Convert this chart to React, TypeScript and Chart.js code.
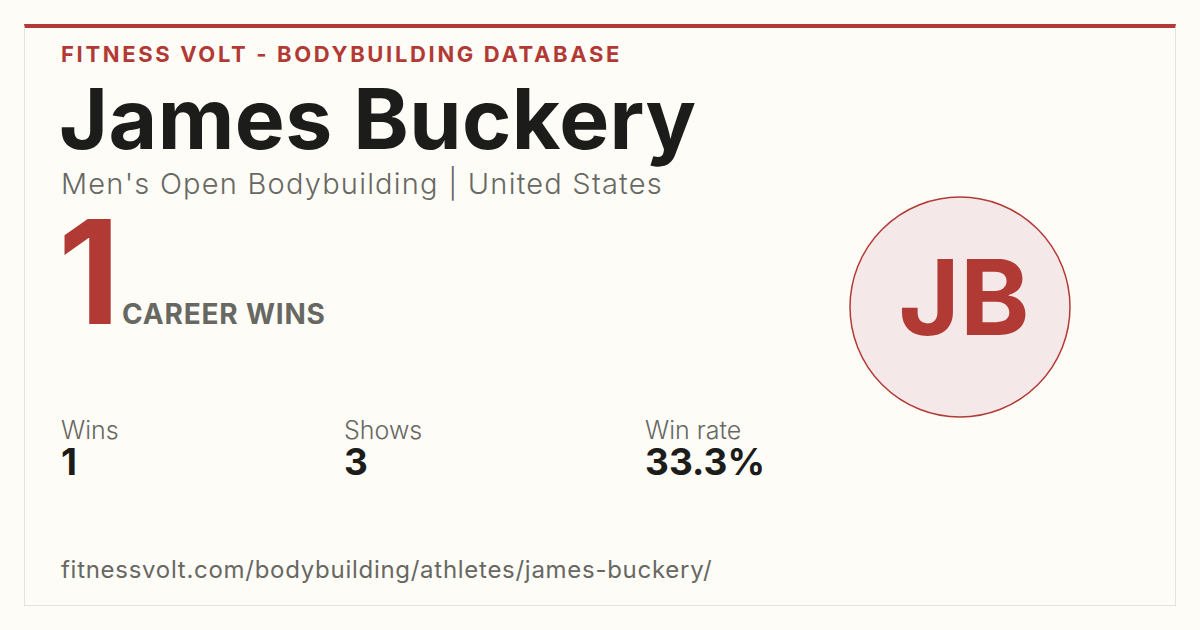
import React, { useEffect, useRef } from "react";
import { Chart, registerables } from "chart.js";

Chart.register(...registerables);

const SITE_TITLE = "FITNESS VOLT - BODYBUILDING DATABASE";
const ATHLETE_NAME = "James Buckery";
const DIVISION = "Men's Open Bodybuilding";
const COUNTRY = "United States";
const CAREER_WINS = 1;
const INITIALS = "JB";
const STAT_LABELS = ["Wins", "Shows", "Win rate"];
const STAT_VALUES = ["1", "3", "33.3%"];
const PROFILE_URL = "fitnessvolt.com/bodybuilding/athletes/james-buckery/";
const AVATAR_POINT = [{ x: 0, y: 0, r: 110 }];

const RED = "#b23a35";
const GRAY = "#686863";
const DARK = "#1c1c1a";
const BG = "#fdfcf7";
const FONT = "Inter, 'Noto Sans', sans-serif";

const STAT_X = [61, 344, 645];

function AvatarChart() {
  const ref = useRef<HTMLCanvasElement | null>(null);
  useEffect(() => {
    if (!ref.current) return;
    const initialsPlugin = {
      id: "initials",
      afterDatasetsDraw(chart: any) {
        const meta = chart.getDatasetMeta(0);
        const pt = meta.data[0];
        if (!pt) return;
        const { ctx } = chart;
        ctx.save();
        ctx.fillStyle = RED;
        ctx.font = `700 105px ${FONT}`;
        ctx.textAlign = "center";
        ctx.textBaseline = "alphabetic";
        ctx.fillText(INITIALS, pt.x + 4, pt.y + 28);
        ctx.restore();
      },
    };
    const chart = new Chart(ref.current, {
      type: "bubble",
      data: {
        datasets: [
          {
            data: AVATAR_POINT,
            backgroundColor: "#f5e8e8",
            borderColor: RED,
            borderWidth: 1.5,
            hoverRadius: 0,
            clip: false,
          } as any,
        ],
      },
      options: {
        responsive: false,
        animation: false,
        events: [],
        layout: { padding: 0 },
        scales: {
          x: { display: false, min: -1, max: 1 },
          y: { display: false, min: -1, max: 1 },
        },
        plugins: { legend: { display: false }, tooltip: { enabled: false } },
      },
      plugins: [initialsPlugin],
    });
    return () => chart.destroy();
  }, []);
  return (
    <canvas
      ref={ref}
      width={240}
      height={240}
      style={{ position: "absolute", left: 840, top: 187, width: 240, height: 240 }}
    />
  );
}

function T(props: {
  x: number;
  baseline: number;
  size: number;
  weight?: number;
  color: string;
  spacing?: number;
  children: React.ReactNode;
}) {
  const { x, baseline, size, weight = 400, color, spacing = 0, children } = props;
  const lh = Math.round(size * 0.8);
  return (
    <div
      style={{
        position: "absolute",
        left: x,
        top: baseline - lh / 2 - size * 0.3633,
        fontSize: size,
        lineHeight: `${lh}px`,
        fontWeight: weight,
        color,
        letterSpacing: spacing,
        whiteSpace: "nowrap",
        fontFamily: FONT,
      }}
    >
      {children}
    </div>
  );
}

export default function App() {
  useEffect(() => {
    document.body.style.margin = "0";
    document.body.style.background = BG;
  }, []);
  return (
    <div
      style={{
        position: "absolute",
        left: 0,
        top: 0,
        width: 1200,
        height: 630,
        background: BG,
        overflow: "hidden",
        fontFamily: FONT,
      }}
    >
      <div
        style={{
          position: "absolute",
          left: 24,
          top: 24,
          width: 1152,
          height: 582,
          boxSizing: "border-box",
          border: "1px solid #e4e2dc",
          borderTop: `4px solid ${RED}`,
        }}
      />
      <T x={61} baseline={62} size={22} weight={700} color={RED} spacing={2.65}>
        {SITE_TITLE}
      </T>
      <T x={59} baseline={149} size={84} weight={700} color={DARK} spacing={0.45}>
        {ATHLETE_NAME}
      </T>
      <T x={61} baseline={194} size={29} weight={300} color={GRAY} spacing={1.22}>
        {DIVISION} | {COUNTRY}
      </T>
      <T x={58} baseline={324} size={144} weight={700} color={RED} spacing={-4}>
        {CAREER_WINS}
      </T>
      <T x={122} baseline={324} size={28} weight={700} color={GRAY} spacing={0.8}>
        CAREER WINS
      </T>
      {STAT_LABELS.map((l, i) => (
        <React.Fragment key={l}>
          <T x={STAT_X[i]} baseline={439} size={25} weight={300} color={GRAY}>
            {l}
          </T>
          <T x={STAT_X[i]} baseline={475} size={37} weight={700} color={DARK}>
            {STAT_VALUES[i]}
          </T>
        </React.Fragment>
      ))}
      <T x={61} baseline={578} size={24} weight={400} color={GRAY} spacing={0.72}>
        {PROFILE_URL}
      </T>
      <AvatarChart />
    </div>
  );
}
